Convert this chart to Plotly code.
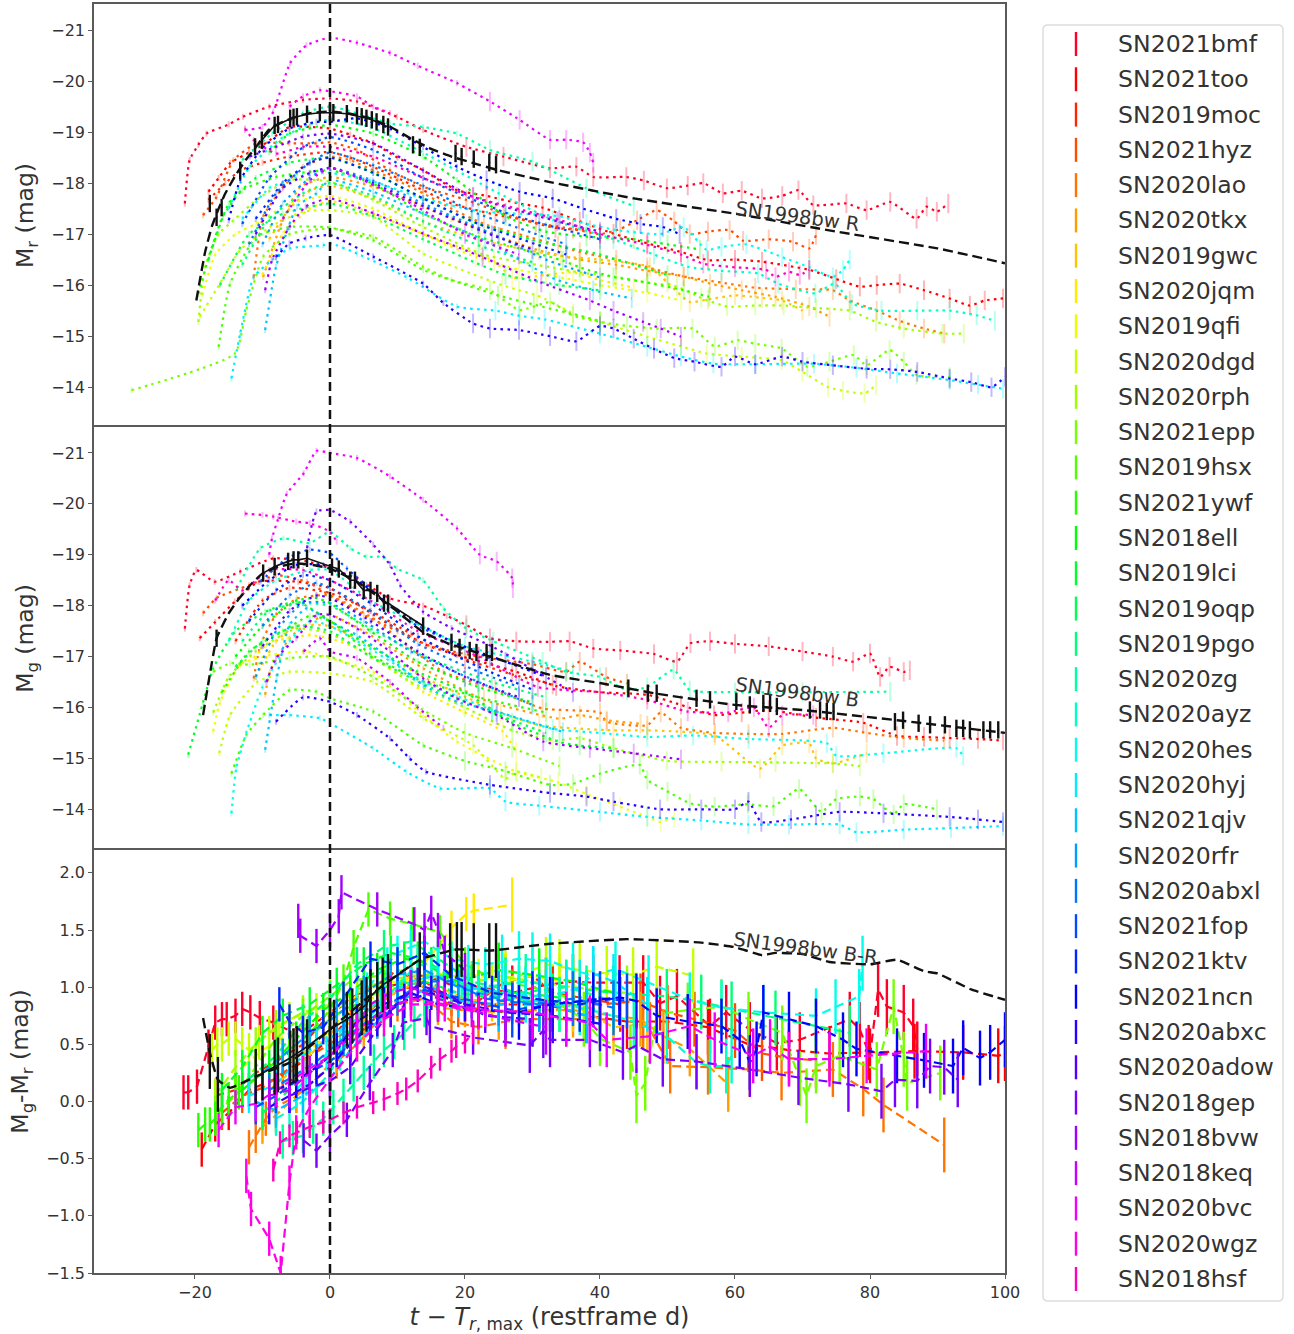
import plotly.graph_objects as go

NAMES = ["SN2021bmf","SN2021too","SN2019moc","SN2021hyz","SN2020lao","SN2020tkx","SN2019gwc","SN2020jqm","SN2019qfi",
"SN2020dgd","SN2020rph","SN2021epp","SN2019hsx","SN2021ywf","SN2018ell","SN2019lci","SN2019oqp","SN2019pgo","SN2020zg",
"SN2020ayz","SN2020hes","SN2020hyj","SN2021qjv","SN2020rfr","SN2020abxl","SN2021fop","SN2021ktv","SN2021ncn","SN2020abxc",
"SN2020adow","SN2018gep","SN2018bvw","SN2018keq","SN2020bvc","SN2020wgz","SN2018hsf"]

# ---------- r band absolute magnitude (day, mag) ----------
R_bmf=[(-21.5,-17.6),(-20.8,-18.45),(-19.5,-18.75),(-18.3,-18.97),(-15,-19.15),(-12.9,-19.3),(-9,-19.5),(-4,-19.63),(0,-19.66),(4,-19.6),(9.9,-19.3),(13.8,-19.04),(20.2,-18.71),(25.7,-18.52),(32.6,-18.29),(36.5,-18.32),(39,-18.12),(43.9,-18.12),(46.5,-18.05),(49.9,-17.9),(53,-17.95),(55.3,-18),(58.2,-17.8),(61,-17.85),(64,-17.7),(67,-17.75),(69.4,-17.86),(71.6,-17.57),(76.5,-17.6),(79.5,-17.47),(83,-17.63),(86.9,-17.3),(88.4,-17.54),(89.9,-17.44),(91.6,-17.6)]
R_too=[(-18,-17.83),(-16.5,-18.1),(-14.8,-18.39),(-12,-18.6),(-9.9,-18.75),(-6,-19.1),(-3,-19.1),(0,-19.07),(3,-18.95),(6.4,-18.78),(10,-18.5),(13.8,-18.25),(18.8,-17.86),(23.2,-17.75),(28,-17.6),(31.5,-17.52),(37,-17.25),(42,-17.01),(47,-16.82),(52,-16.65),(56,-16.49),(60,-16.5),(64,-16.46),(71,-16.3),(75,-16.12),(78.5,-15.97),(81,-16),(84.4,-16.03),(88,-15.9),(91.8,-15.74),(94.8,-15.6),(97,-15.7),(99.7,-15.74)]
R_moc=[(-18,-17.67),(-15.5,-18),(-13.3,-18.25),(-10,-18.4),(-6,-18.52),(0,-18.61),(3,-18.5),(6.4,-18.32),(10,-18.1),(13.8,-17.86),(18,-17.6),(24.5,-17.38),(28,-17.3),(33.4,-17.12),(38.5,-17.08)]
R_hyz=[(-18.8,-17.37),(-16.8,-17.73),(-14.3,-18.45),(-10.9,-18.78),(-6,-18.78),(-2,-18.78),(0,-18.8),(4,-18.65),(8.9,-18.25),(13.8,-17.93),(20.2,-17.67),(25.7,-17.4),(30.5,-17.22),(36,-17.1),(40,-17),(43,-17.1),(45.5,-17.27),(48.4,-17.47),(51,-17.25),(53.3,-17),(56,-17.05),(59.2,-17.08),(61.2,-16.87),(65,-16.9),(68.6,-16.85),(71,-16.72),(72,-16.98)]
R_lao=[(-11.3,-16.16),(-9.9,-17.34),(-6.9,-17.93),(-4,-18.32),(0,-18.52),(3,-18.45),(6.4,-18.25),(10,-18.05),(13.8,-17.8),(18,-17.5),(22.8,-17.2),(28,-17),(33.8,-16.78),(37,-16.65),(42.4,-16.5),(47,-16.35),(52.4,-16.17),(58,-16.05),(63,-15.95),(69,-15.92),(74.5,-15.9),(77,-15.7),(81,-15.5),(84.4,-15.3),(88,-15.15),(91,-15.05)]
R_tkx=[(-9.9,-16.16),(-7.4,-17.14),(-4.4,-17.93),(0,-18.12),(6.4,-17.93),(13.8,-17.54),(18,-17.3),(25,-16.95),(31,-16.68),(37,-16.5),(42.4,-16.4),(47,-16.28),(52.4,-16.17),(56.3,-16.03),(61,-15.9),(66,-15.77),(71,-15.58),(74,-15.38)]
R_gwc=[(-9,-16.9),(-6,-17.5),(-3,-17.85),(0,-17.95),(6.4,-17.7),(13.8,-17.25),(22.3,-16.88),(34.2,-16.57),(40,-16.5),(47.4,-16.36),(50,-16.05),(53.3,-15.67),(56,-15.72),(60,-15.8),(64,-15.75),(67,-15.7),(70,-15.5)]
R_jqm=[(-10,-16.2),(-7,-17),(-3,-17.5),(0,-17.65),(6.4,-17.4),(13.8,-17),(24.3,-16.47),(27,-16.15),(32,-16.2),(36,-16.25),(40,-16.1),(45,-15.95)]
R_qfi=[(-18.9,-15.8),(-17,-16.6),(-14,-17),(-11,-17.2),(-6,-17.6),(0,-17.75),(6.4,-17.5),(13.8,-17),(21.6,-16.55),(28,-16.3),(35,-16.13),(40,-16),(47,-15.85),(52,-15.7)]
R_dgd=[(-19.3,-15.38),(-16.3,-16.03),(-13.3,-16.69),(-8.9,-17.14),(-4,-17.44),(0,-17.47),(6.4,-17.34),(13.8,-16.62),(25.5,-16),(28,-15.9),(30.7,-15.8),(36,-15.45),(40,-15.28),(47,-14.99),(52,-14.8),(55.8,-14.66),(61,-14.6),(66.9,-14.53),(70,-14.3),(73.8,-14),(76,-13.93),(79.2,-13.88),(80.9,-14.04)]
R_rph=[(-19.5,-15.28),(-18.5,-16.36),(-16.5,-17),(-14.3,-17.27),(-10.9,-17.67),(-6,-18.06),(0,-18.03),(6.4,-17.67),(13.8,-17.14),(22.7,-16.6),(33.2,-16.34),(37,-16.25),(42.4,-16.16),(47,-16.05),(51.4,-15.97),(55,-15.75),(58.8,-15.58),(63,-15.6),(67.2,-15.6),(72,-15.55),(77,-15.5),(80.9,-15.28),(85,-15.15),(90.7,-15.05),(93.9,-15.05)]
R_epp=[(-29.4,-13.94),(-14.1,-14.66),(-12.4,-15.51),(-9.9,-16.56),(-6,-17),(0,-17.11),(6.4,-16.95),(13.8,-16.36),(18,-16.1),(23.7,-15.9),(28.1,-15.51),(32.6,-15.67),(36,-15.4),(40,-15.28),(44,-15.2),(48.4,-15.15),(53.7,-15.15),(57,-14.8),(60.4,-14.92),(63,-14.85),(66.9,-14.76),(70.7,-14.4),(74,-14.5),(77.6,-14.63),(79.5,-14.43),(82.9,-14.73),(85,-14.5),(86.9,-14.24),(91.8,-14.2)]
R_hsx=[(-16.5,-14.79),(-14.8,-16.03),(-10.9,-16.95),(-6,-17.14),(0,-17.13),(6.4,-16.88),(13.8,-16.3),(24.9,-15.8),(30.2,-15.62),(40,-15.3)]
R_ywf=[(-19.5,-15.83),(-17.8,-16.62),(-15.9,-17.34),(-13,-17.86),(-8,-18.12),(0,-18.25),(6.4,-17.99),(13.8,-17.4),(22,-16.95),(34.5,-16.48),(37,-16.35),(42,-16.16),(47,-16.05),(52.4,-15.9),(56.2,-15.77)]
R_ell=[(-9,-18.6),(-6,-18.97),(0,-19.14),(6.4,-18.97),(13.8,-18.52),(18.8,-18.06),(26,-17.35),(32,-17.05),(38,-16.95),(45,-16.9),(50,-16.8),(54.8,-16.7)]
R_lci=[(-18,-16.5),(-15,-17.6),(-11,-18.1),(-6,-18.4),(0,-18.5),(6.4,-18.2),(13.8,-17.7),(21,-17.25),(31,-16.85),(40,-16.6),(50,-16.2)]
R_oqp=[(-16.3,-16),(-12,-17),(-7,-17.4),(0,-17.6),(6.4,-17.35),(13.8,-16.9),(26,-16.2),(34,-16),(40,-15.9)]
R_pgo=[(-13,-16.4),(-9,-17.3),(-4,-17.8),(0,-18),(6.4,-17.75),(13.8,-17.25),(22,-16.78),(30,-16.45)]
R_zg=[(-13,-18.45),(-8.6,-18.97),(-4,-19.37),(0,-19.5),(4,-19.37),(8.9,-19.17),(13.8,-19.1),(18.8,-18.97),(23.7,-18.65),(30,-18.42),(38,-17.9),(45,-17.55)]
R_ayz=[(-15,-17.5),(-12,-18.3),(-7,-18.9),(-3,-19.15),(0,-19.25),(6,-19.1),(13.8,-18.6),(25,-17.8),(33,-17.28),(42,-16.9),(48,-16.6),(53,-16.36),(58,-16.28),(63.4,-16.23),(66.4,-16.03),(71.9,-15.84),(74.8,-16.03),(77.3,-15.64),(81.7,-15.5),(87,-15.5),(91.8,-15.5),(95.8,-15.41),(98.5,-15.3)]
R_hes=[(-13,-17.3),(-9,-17.9),(-4,-18.15),(0,-18.2),(6,-18.05),(13.8,-17.7),(22,-17.45),(34,-17.35),(38,-17.2),(42.4,-17.08),(48.9,-17),(52.4,-17.14),(55.8,-16.69),(58,-16.75),(61.7,-16.8),(67,-16.55),(71,-16.35),(74.5,-16.16),(76,-16.3),(77,-16.5)]
R_hyj=[(-14.6,-14.17),(-13.3,-15.05),(-11.3,-16.16),(-8,-16.55),(-6,-16.72),(-1,-16.78),(0,-16.82),(4,-16.62),(11.3,-16.16),(18.8,-15.58),(24.5,-15.5),(28,-15.4),(31.8,-15.33),(40,-15.05),(47,-14.79),(52,-14.6),(56.8,-14.46),(63,-14.45),(71.7,-14.46),(78,-14.38),(84,-14.27),(91.8,-14.14),(96,-14.05),(99.7,-13.97)]
R_qjv=[(-9.6,-15.12),(-8,-16.36),(-4.9,-17.54),(-2,-17.8),(0,-18.06),(6.4,-17.83),(13.8,-17.4),(23,-16.87),(33.3,-16.12),(39,-15.9),(44.7,-15.74)]
R_rfr=[(-10,-16.8),(-7,-17.6),(-3,-18.1),(0,-18.3),(6.4,-18.05),(13.8,-17.6),(25,-16.95),(32,-16.5),(40,-16.15)]
R_abxl=[(-12,-16.8),(-8,-17.8),(-3,-18.4),(0,-18.6),(6.4,-18.35),(13.8,-17.95),(21,-17.45),(35,-16.8)]
R_fop=[(-13,-17.2),(-9,-18.1),(-4,-18.7),(0,-18.9),(6.4,-18.65),(13.8,-18.1),(26,-17.42),(31,-17.22),(40,-16.9)]
R_ktv=[(-11,-17.3),(-7,-18),(-3,-18.4),(0,-18.5),(6.4,-18.2),(13.8,-17.7),(22,-17.2),(35,-16.6)]
R_ncn=[(-15,-17.27),(-13.3,-18.06),(-9.9,-18.7),(-6,-19.07),(-2,-19.2),(0,-19.2),(4,-19.27),(8.9,-19.07),(13.8,-18.71),(18.8,-18.32),(23.2,-18.06),(28.1,-17.83),(33,-17.7),(37.5,-17.5),(42.4,-17.3),(46,-17.2),(49.3,-17.14),(51.8,-17)]
R_abxc=[(-8,-16.55),(-6,-16.82),(-3.6,-16.92),(0,-16.98),(6.4,-16.56),(13.8,-16.03),(16.8,-15.65),(21.2,-15.25),(23.7,-15.15),(28,-15.12),(32.6,-15),(36.5,-14.9),(40,-15.2),(42,-15.15),(45,-14.95),(48,-14.75),(51,-14.57),(54,-14.5),(58,-14.4),(60,-14.6),(63,-14.45),(67,-14.6),(70,-14.5),(74.5,-14.43),(79.5,-14.36),(83,-14.35),(87,-14.3),(91.8,-14.17),(95,-14.1),(98,-14),(100,-14.2)]
R_adow=[(-11,-17),(-7,-17.9),(-3,-18.2),(0,-18.3),(6.4,-18),(13.8,-17.55),(24,-16.98),(30,-16.7)]
R_gep=[(-11.9,-18.52),(-8,-18.71),(-4,-18.91),(0,-18.97),(6.4,-18.78),(13.8,-18.25),(21.2,-17.73),(33.7,-17.25),(40,-17.05)]
R_bvw=[(-9.6,-15.9),(-8.6,-16.49),(-6,-17.14),(-3.6,-17.54),(0,-17.7),(6.4,-17.41),(13.8,-17.01),(22.6,-16.55),(31.3,-16.05),(38.5,-15.7),(42,-15.5),(46.4,-15.28),(49,-15.15),(52,-14.99)]
R_keq=[(-7,-17.3),(-3,-18.05),(0,-18.3),(5,-18.05),(12,-17.6),(20,-17),(28,-16.6)]
R_bvc=[(-12.6,-19.04),(-10,-19.1),(-8.4,-19.4),(-5.9,-20.35),(-3.5,-20.7),(0,-20.85),(4,-20.75),(8.9,-20.55),(13,-20.3),(18.8,-19.96),(23.7,-19.6),(28.1,-19.24),(32.6,-18.85),(35,-18.85),(37.5,-18.8),(38.5,-18.6),(39,-18.4)]
R_wgz=[(-6,-19.5),(-4,-19.7),(-1.5,-19.82),(0,-19.8),(4,-19.7),(6.4,-19.5),(8.9,-19.37)]
R_hsf=[(-12.6,-19.07),(-11.3,-18.84),(-8,-18.58),(-4,-18.71),(0,-18.71),(6.4,-18.52),(13.8,-18.1),(21.2,-17.73),(34,-17.28),(40,-17),(47,-16.79),(52,-16.6),(55.3,-16.42),(60,-16.35),(64.6,-16.3),(66,-16.16),(68,-16.26),(69.6,-16.2),(71,-16.3)]

# ---------- g band absolute magnitude (day, mag) ----------
G_bmf=[(-21.5,-17.55),(-20.8,-18.4),(-19.8,-18.7),(-17.1,-18.47),(-13.3,-18.67),(-8.4,-18.93),(-3.4,-18.87),(0,-18.73),(3.9,-18.54),(8.9,-18.14),(13.8,-18),(17.3,-17.8),(20.2,-17.62),(23.7,-17.36),(27.6,-17.3),(32.6,-17.29),(35.5,-17.3),(39,-17.16),(43,-17.12),(48,-17.05),(51.4,-16.9),(53.4,-17.26),(56.3,-17.3),(60,-17.25),(65,-17.2),(70,-17.1),(74.5,-17),(77.5,-16.9),(80,-17.06),(81.5,-16.6),(82.9,-16.8),(85,-16.7),(85.9,-16.73)]
G_too=[(-19.3,-17.36),(-17,-17.68),(-14.1,-18.08),(-10.6,-18.47),(-4.7,-18.47),(0,-18.34),(8.9,-17.62),(14.2,-17.23),(18.8,-17.03),(27.6,-16.7),(33.5,-16.42),(40,-16.3),(47,-16.25),(52,-16.05),(56.9,-15.85),(61,-15.9),(65,-15.95),(72,-15.8),(79,-15.7),(84,-15.44),(88,-15.42),(91.8,-15.4),(96,-15.38),(99.7,-15.35)]
G_moc=[(-14,-17.3),(-10,-18.1),(-6,-18.35),(0,-18.25),(6,-17.9),(12,-17.45),(20,-16.95),(27,-16.65),(33,-16.45)]
G_hyz=[(-18.8,-17.85),(-16.8,-18.15),(-12,-18.4),(-8,-18.6),(-3.4,-18.47),(0,-18.2),(5,-17.82),(10,-17.5),(15,-17.2),(22,-17),(30,-16.85),(35,-16.7),(37,-16.9),(40.9,-16.6),(44,-16.47)]
G_lao=[(-11.3,-16.57),(-10.3,-17.23),(-8,-17.82),(-4.9,-18.14),(-2,-18.2),(0,-18.2),(6.4,-17.75),(11.3,-17.23),(16.8,-16.7),(24.5,-16.35),(31.5,-15.98),(40,-15.9),(41,-15.72),(47,-15.65),(49,-15.9),(52,-15.6),(57,-15.5),(62,-15.48),(67,-15.48),(74.5,-15.6),(79.5,-15.5),(85,-15.4),(91,-15.35)]
G_tkx=[(-9.6,-16.25),(-8.9,-16.7),(-6,-17.36),(-3,-17.68),(0,-17.82),(5,-17.5),(13.8,-16.77),(22.8,-16.15),(34,-15.78),(37,-15.85),(41,-15.75),(46,-15.68)]
G_gwc=[(-11,-16.6),(-8,-17.3),(-5,-17.6),(0,-17.6),(6,-17.2),(13.8,-16.6),(25.3,-15.9),(31,-15.65),(42,-15.55),(47,-15.55),(57,-15.45),(63.7,-14.8),(67,-15.25),(71,-15.3),(72,-15),(74.5,-14.9),(79.5,-15.1)]
G_jqm=[(-11.3,-16.97),(-9.4,-17.23),(-6.4,-17.36),(-3,-17.42),(0,-17.36),(4,-17.16),(8.9,-16.77),(13.8,-16.31),(19.7,-15.92),(25.6,-15.53),(27.6,-15.13)]
G_qfi=[(-17.3,-15.53),(-16.3,-16.1),(-13.3,-16.84),(-8.9,-17.03),(-3.4,-17.1),(0,-16.97),(6.4,-16.7),(13.8,-15.85),(18.8,-15.33),(27.6,-14.74),(33.8,-14.53),(38,-14.3),(43,-14.05),(47,-13.85),(49,-13.75),(51,-13.85)]
G_dgd=[(-16.4,-15.1),(-14.8,-15.85),(-10.8,-16.5),(-6,-16.7),(0,-16.67),(6.4,-16.5),(13.8,-15.79),(21.2,-15.26),(26,-14.6),(27.6,-14.74),(31.3,-14.62)]
G_rph=[(-17.3,-15.9),(-15,-16.6),(-11,-17.1),(-5,-17.55),(0,-17.45),(6,-17),(12,-16.5),(20,-16),(27,-15.55),(33,-15.35),(37,-15.4),(42,-15.2),(49.9,-14.95),(58,-14.93),(66,-14.92),(74.5,-14.9),(78.5,-14.85)]
G_epp=[(-17.3,-16.7),(-14.8,-16.87),(-11.9,-16.84),(-6,-16.97),(0,-17),(6.4,-16.6),(13.8,-15.95),(20,-15.5),(27,-15.2),(34,-14.85)]
G_hsx=[(-14.6,-14.7),(-12.4,-15.46),(-9.9,-15.85),(-6,-16.34),(-2,-16.31),(0,-16.18),(6.4,-15.92),(13.8,-15.26),(20,-14.95),(26,-14.75),(32.6,-14.48),(36,-14.5),(40,-14.7),(45.9,-14.87),(47,-14.58),(50,-14.35),(53.3,-14.12),(57,-14.05),(61.9,-14.1),(65.7,-14.06),(69.5,-14.4),(72.8,-13.95),(75,-14.2),(78.5,-14.25),(80.5,-14.2),(83.5,-13.9),(85,-14.1),(89.9,-14)]
G_ywf=[(-16,-16.3),(-12,-17.1),(-7,-17.5),(-3,-17.8),(0,-17.7),(6,-17.05),(13,-16.55),(22,-16.2),(32,-15.9)]
G_ell=[(-14,-17),(-10,-17.6),(-5,-18.1),(-2,-18.15),(0,-18.05),(6,-17.5),(13,-16.9),(22,-16.4),(30,-16.1)]
G_lci=[(-21,-15.07),(-18.8,-16.1),(-17.3,-16.77),(-14.1,-17.49),(-9.6,-17.88),(-4.9,-18.08),(0,-17.7),(6,-17.2),(13,-16.7),(20,-16.3),(27,-15.7),(34,-15.32),(37,-15.25),(42,-15.2)]
G_oqp=[(-14,-16.8),(-10,-17.3),(-5,-17.6),(0,-17.5),(6,-17),(14,-16.45),(24,-15.9),(32,-15.5)]
G_pgo=[(-13,-17.3),(-9,-17.9),(-4,-18.05),(0,-18),(6,-17.55),(14,-17),(24,-16.5),(32,-16.2)]
G_zg=[(-13.8,-18.34),(-10.3,-19.13),(-6.9,-19.32),(-3,-19.23),(0,-19.45),(3,-19.13),(5.4,-18.96),(7.9,-18.96),(9.9,-18.73),(13.8,-18.5),(16.8,-17.95),(20.2,-17.55),(24.2,-17.3),(31.5,-16.9),(35,-16.7),(40,-16.6),(44,-16.34),(47,-16.4),(50.9,-16.74),(53.3,-16.34),(60,-16.3),(70,-16.3),(83,-16.31)]
G_ayz=[(-15,-17.3),(-12,-18.1),(-8,-18.5),(-3,-18.7),(0,-18.7),(6,-18.1),(12,-17.7),(20,-17.2),(30,-16.9),(36,-16.7)]
G_hes=[(-14.6,-13.92),(-13.9,-14.8),(-12.4,-15.5),(-10,-16.4),(-6,-17.3),(-3,-17.7),(0,-17.6),(6,-17.15),(14,-16.5),(24,-15.95),(33,-15.58),(40,-15.5),(47,-15.42),(53.8,-15.45),(62,-15.38),(73.6,-15.3),(75,-15.05),(82,-15.1),(92.8,-15.2),(93.8,-15.05)]
G_hyj=[(-9,-15.85),(-6,-15.85),(-1.5,-15.79),(0,-15.69),(6.4,-15.2),(11.3,-14.74),(16.3,-14.41),(23.7,-14.41),(26,-14.15),(31,-14.07),(40,-13.95),(47,-13.85),(55,-13.78),(62,-13.7),(68,-13.7),(75.5,-13.7),(78,-13.55),(85,-13.6),(92,-13.63),(99.7,-13.67)]
G_qjv=[(-9.6,-15.17),(-7.9,-16.57),(-6,-17.62),(-3.4,-17.95),(0,-17.69),(4,-17.42),(8.9,-16.97),(13.8,-16.44),(18.8,-16.11),(24.7,-15.92),(34.5,-15.52)]
G_rfr=[(-11,-16.6),(-8,-17.5),(-4,-18.05),(0,-18.05),(5,-17.7),(12,-17.1),(22,-16.5),(30,-16.05)]
G_abxl=[(-10,-17.6),(-6,-18.2),(-2,-18.45),(0,-18.35),(6,-17.9),(13,-17.25),(22,-16.7),(28,-16.4)]
G_fop=[(-10.3,-18.47),(-6.4,-18.93),(-3,-19.1),(0,-19.03),(2.5,-18.73),(5.4,-18.4),(8.9,-18),(11.8,-17.69),(17.8,-17.3),(23.7,-16.97)]
G_ktv=[(-12,-17.7),(-8,-18.3),(-4,-18.6),(0,-18.5),(6,-18.05),(13,-17.4),(22,-16.8),(30,-16.35)]
G_ncn=[(-13,-18),(-9,-18.5),(-5,-18.8),(-1,-18.8),(4,-18.5),(10,-17.9),(18,-17.3),(26,-16.9),(32,-16.6)]
G_abxc=[(-8,-15.72),(-4,-16.2),(0,-16.11),(4,-15.85),(8.9,-15.39),(11.8,-15),(14.2,-14.74),(23.7,-14.48),(32.6,-14.32),(38,-14.25),(42,-14.15),(48.9,-14),(55,-14),(60,-14),(62,-14.15),(63.9,-13.75),(68.3,-13.8),(72,-13.88),(75.5,-13.95),(82,-13.92),(91.8,-13.85),(96,-13.8),(99.7,-13.75)]
G_adow=[(-10,-17.2),(-6,-17.9),(-2,-18.2),(0,-18.15),(6,-17.7),(13,-17.1),(20,-16.6),(28,-16.2)]
G_gep=[(-3.4,-19.13),(-2,-19.85),(0,-19.88),(3,-19.65),(6.4,-19.2),(8.9,-18.8),(10.4,-18.4),(13.8,-17.88),(18,-17.56),(24,-17.2),(30,-16.75),(36,-16.3)]
G_bvw=[(-9.4,-16.5),(-8,-16.97),(-5,-17.36),(-2,-17.82),(0,-17.82),(4,-17.55),(8.9,-17.1),(13.8,-16.57),(18.8,-16.18),(24.7,-15.85),(31.6,-15.33),(38.5,-15.2),(45,-15.1),(52,-14.98)]
G_keq=[(-3.9,-17.1),(-1.5,-17.36),(0,-17.1),(4,-16.97),(8.9,-16.5),(13,-16),(16.8,-15.6)]
G_bvc=[(-9,-19),(-8.6,-19.32),(-7.7,-19.7),(-6.4,-20.2),(-3.9,-20.6),(-2,-21.04),(0,-21),(4,-20.9),(8.9,-20.54),(13.8,-20.08),(18.8,-19.52),(22.2,-19),(24.7,-18.87),(27,-18.54),(27.1,-18.34)]
G_wgz=[(-12.6,-19.81),(-10,-19.78),(-8.4,-19.75),(-5,-19.65),(-3,-19.62),(0,-19.45),(1,-19.26)]
G_hsf=[(-17,-18.1),(-15,-18.5),(-13,-18.3),(-9,-18.7),(-4,-18.7),(0,-18.5),(6,-18.1),(13,-17.5),(22,-17),(30.8,-16.4),(40,-16.3),(47,-16.15),(53,-15.92),(59,-15.9),(62.8,-16),(65,-15.6),(67,-15.85),(71.6,-15.85)]

# ---------- g - r colour (day, mag) ----------
C_bmf=[(-21.7,.08),(-21,.08),(-19.7,.13),(-18,.48),(-17,.69),(-16,.72),(-15.3,.72),(-14,.75),(-13,.81),(-11.8,.78),(-10.4,.73),(-8.4,.69),(-6,.62),(-3,.65),(0,.78),(3,.9),(6,1),(10,1.1),(14,1.1),(18,1.02),(22,1),(27,.95),(32,1.02),(36,1.05),(39,1.04),(42.9,1.04),(46.4,1.04),(48.9,.86),(51.4,.92),(56.3,.66),(58.7,.78),(62.2,.63),(66.2,.51),(69.6,.54),(77,.72),(78.5,.63),(80,.4),(81.2,.98),(82.5,.83),(85,.78),(86.4,.66),(87,.46)]
C_too=[(-19,-.42),(-17,-.2),(-15,-.1),(-12,.1),(-8,.2),(-4,.35),(0,.55),(4,.8),(8,1),(12,1.05),(16,.95),(20,.85),(26,.85),(32,.85),(38,.75),(44,.7),(50,.7),(56,.65),(62,.5),(68,.45),(74,.42),(79.8,.43),(86.6,.44),(93.8,.43),(99,.4),(100,.42)]
C_moc=[(-17,.05),(-14,.1),(-11,.25),(-8,.35),(-4,.5),(-1,.7),(2,.85),(6,.98),(10,1.15),(14,1.05),(18,.9),(22,.88),(26,1.05),(30,1.1),(33,.95),(38,.9),(43,.85)]
C_hyz=[(-16,-.1),(-13,.05),(-10,.12),(-7,.25),(-3,.4),(0,.5),(3,.65),(7,.85),(11,1),(15,.95),(19,.8),(23,.82),(27,.92),(31,.85),(35,.85),(40,.85),(46,.88),(50,.78),(54,.72),(60,.62),(64,.42),(68,.38),(72,.36)]
C_lao=[(-12,-.4),(-11,-.3),(-9.5,-.15),(-8,-.05),(-5,.05),(-2,.2),(1,.35),(4,.5),(7,.7),(10,.85),(14,.9),(18,.7),(22,.65),(26,.7),(30,.72),(35,.72),(40,.72),(46.4,.69),(47.4,.63),(50.4,.31),(56,.3),(62.2,.28),(66.9,.25),(74.5,.28),(79,.11),(82,-.03),(91,-.38)]
C_tkx=[(-10,-.22),(-8,-.12),(-5,.05),(-2,.2),(1,.4),(5,.62),(8,.82),(12,.95),(16,.82),(20,.8),(25,.78),(30,.8),(36,.8),(42,.75),(46,.72),(49.4,.57),(53.3,.46),(59,.15)]
C_gwc=[(-9,.1),(-6,.25),(-3,.4),(0,.6),(4,.72),(8,.9),(12,1.02),(16,1),(20,.9),(24,.85),(30,.88),(36,.85),(42,.65),(47,.68)]
C_jqm=[(-6,.35),(-2,.5),(2,.75),(6,.9),(10,1),(13,1.15),(16,1.35),(18,1.52),(20.2,1.64),(21.3,1.67),(27,1.72)]
C_qfi=[(-13,.3),(-10,.45),(-6,.6),(-2,.72),(2,.85),(6,1),(10,1.05),(14,1.05),(18,1.15),(22,1.1),(26,1.05),(30,1.1),(34,1.05)]
C_dgd=[(-17.5,.45),(-16.7,.5),(-16,.5),(-15,.55),(-14,.55),(-13,.5),(-12,.45),(-10.5,.52),(-9,.6),(-7.5,.65),(-6,.72),(-4,.76),(-2,.8),(0,.85),(2,.9),(4,.95),(6,1),(8,1),(10,1.05),(12,1.08),(14,1.1),(16,1.12),(18,1.1),(21,1.08),(24,1.05),(26,1.08),(28,1.1),(30,1.15),(32,1.2),(34,1.18),(37,1.15),(41,1.12),(44.9,1.11),(48.4,1.18),(53.8,1.1)]
C_rph=[(-17,.05),(-14,.3),(-11,.5),(-8,.65),(-4,.78),(0,.85),(4,.98),(8,1.05),(12,1.1),(16,1.12),(20,1.02),(25,1.1),(30,1.05),(36,1),(44,.95)]
C_epp=[(-17,-.1),(-14,.05),(-11,.3),(-8,.55),(-4,.75),(0,.92),(3,1.05),(7,1.1),(11,1.15),(15,1.1),(20,1),(26,.92),(32,.92),(37.6,.72),(40,.55),(44.5,.43),(45.4,.05),(46.7,.16),(48.4,.76),(53,.8),(58,.83),(62,.72),(67,.6),(69.6,.2),(70.6,.05),(72,.31),(75.5,.4),(81,.28),(83.5,.83),(85,.37),(85.5,.16),(90.4,.25)]
C_hsx=[(-14,.1),(-11,.2),(-7,.4),(-3,.6),(0,.8),(2,1.05),(3.5,1.35),(5.7,1.68),(8.9,1.6),(12.3,1.55),(16.3,1.48),(20,1.2),(25,1.05),(30,1),(36,.9)]
C_ywf=[(-19.5,-.25),(-18.5,-.2),(-17.8,-.2),(-17,-.15),(-16,-.05),(-15,.02),(-13.5,.08),(-12,.15),(-10,.25),(-8,.35),(-6,.45),(-4,.55),(-2,.62),(0,.72),(2,.8),(4,.85),(6,.92),(8,1),(10,1.02),(12,1.05),(14,1.08),(16,1.1),(19,1.05),(22,1),(25,.95),(28,.9),(31,.88),(34,.85)]
C_ell=[(-13,.1),(-9,.3),(-5,.55),(-1,.8),(3,.95),(7,1.15),(11,1.25),(15,1.2),(19,1.05),(25,1.15),(31,1.1),(36,1.05),(42,.95)]
C_lci=[(-16,.1),(-13,.3),(-10,.6),(-7,.75),(-3,.85),(1,1.02),(5,1.2),(9,1.3),(13,1.25),(17,1.1),(23,.95),(29,.95),(35,.9)]
C_oqp=[(-10,-.1),(-6,.1),(-2,.3),(2,.55),(6,.85),(10,1),(14,1.05),(19,.95),(25,.9),(33,.88),(40,.8)]
C_pgo=[(-12,.2),(-8,.4),(-4,.7),(0,.9),(4,1.2),(8,1.35),(12,1.4),(16,1.25),(21,1.05),(28,.95),(35,1),(42,.95),(49.9,.92),(55,.87),(59.5,.81),(66,.73),(72,.66),(77,.6)]
C_zg=[(-7,-.35),(-5.5,-.32),(-4,-.3),(-2.5,-.22),(-1,-.15),(.5,-.05),(2,.05),(3.5,.15),(5,.25),(6.5,.35),(8,.45),(9.5,.52),(11,.6),(12.5,.7),(14,.8),(16,.88),(18,.95),(20.5,.98),(23,1),(26,1.02),(29,1.05),(32,1.02),(35,1),(38,.95),(42,.88)]
C_ayz=[(-8,-.15),(-6,-.08),(-4,0),(-2,.12),(0,.25),(1.5,.42),(3,.55),(4.5,.65),(6,.75),(7.5,.85),(9,.95),(11,1.08),(13,1.2),(15,1.18),(17,1.15),(19.5,1.05),(22,.95),(25,.92),(28,.9),(31,.88),(34,.85),(37,.82),(40,.78),(45,.7),(49.9,.57),(54.3,.34),(56.3,.31),(58.7,.31),(59.5,.4)]
C_hes=[(-5,.1),(-3.5,.2),(-2,.3),(-.5,.42),(1,.55),(2.5,.7),(4,.85),(5.5,.98),(7,1.1),(8.5,1.2),(10,1.3),(12,1.35),(14,1.4),(16,1.32),(18,1.25),(20.5,1.22),(23,1.2),(25.5,1.22),(28,1.25),(30,1.24),(32.6,1.23),(36,1.15),(39,1.1),(42.3,1.16),(47.2,1.04),(53.3,.89),(58,.82),(64.2,.78),(72,.75),(74.9,.83),(78.4,.92),(78.9,1.21)]
C_hyj=[(-12,.05),(-10,.1),(-8,.15),(-6,.28),(-4,.4),(-2,.48),(0,.55),(2,.65),(4,.72),(6,.82),(8,.9),(10,.98),(12,1.05),(14,1.08),(16,1.1),(18,1.05),(20,1),(23,.98),(26,.95),(29,.93),(32,.92),(35,.96),(37,1),(39,1.12),(42,1.05),(47,.85)]
C_qjv=[(-11,0),(-8,-.08),(-4,.05),(0,.2),(3,.45),(7,.7),(11,.9),(15,1),(19,.88),(25,.85),(31,.88),(38,.75)]
C_rfr=[(-10,.25),(-7,.4),(-3,.6),(1,.75),(5,.95),(9,1.1),(14,1.15),(19,1),(25,.9),(31,.85)]
C_abxl=[(-9,.1),(-6,.2),(-2,.35),(2,.55),(6,.72),(10,.9),(14,1.05),(18,1.05),(23,.9),(30,.85),(36,.9),(42,.82)]
C_fop=[(-11,-.05),(-8,.05),(-4,.22),(0,.35),(3,.5),(6,.7),(9,.8),(12,1),(16,.95),(21,.88),(27,.8),(33,.85),(40,.9),(44,.88)]
C_ktv=[(-7.5,.85),(-6,.7),(-4,.6),(-1,.65),(2,.9),(6,1.25),(10,1.2),(14,1.3),(18,1.1),(24,.95),(30,.9),(37,.85),(42.9,.91)]
C_ncn=[(-8,.1),(-5,.18),(-2,.3),(1,.45),(4,.7),(8,.85),(12,.95),(16,.85),(22,.8),(28,.78),(32.6,.85),(39,.89),(42.9,.91),(45.4,.88),(48.4,.75),(53,.7),(58,.66),(60.7,.54),(62.2,.34),(63.2,.46),(64.2,.78),(68,.72),(72,.66),(76,.54),(78,.46),(84,.4),(88,.36),(92.3,.31),(93.8,.47),(96.3,.38),(97.8,.43),(100,.54)]
C_abxc=[(-9,-.05),(-6,.05),(-3,.15),(0,.3),(3,.5),(7,.72),(11,.88),(15,.95),(20,.85),(26,.78),(33,.75),(40,.68)]
C_adow=[(-6,.05),(-3,.12),(0,.18),(3,.3),(6,.55),(9,.8),(13,1.02),(17,.95),(23,.75),(30,.72)]
C_gep=[(-3.9,-.34),(-2,-.43),(0,-.3),(2.5,-.16),(5.9,.16),(9.3,.45),(10.8,.69),(14.3,.73),(14.8,.66),(21.2,.56),(29.6,.49),(31.6,.62),(32.6,.54),(38.5,.54),(43.4,.43),(45.4,.49),(49.3,.37),(54.3,.35),(62.2,.28),(69.4,.21),(76.8,.15),(81.7,.09),(83.7,.19),(87,.18),(88.9,.31),(91,.3),(93,.19)]
C_bvw=[(-4.7,1.58),(-4.4,1.45),(-2,1.36),(0,1.5),(1.3,1.62),(1.7,1.83),(7,1.68),(12.5,1.55),(14,1.5),(15,1.65),(16,1.5),(17,1.3),(20,1.15)]
C_keq=[(-9,.05),(-6,.1),(-3,.25),(0,.4),(3,.6),(6,.85),(9,.95),(12,1),(16,.9),(21,.8),(26,.72),(32,.65)]
C_bvc=[(-16.5,-.25),(-14,-.05),(-11,-.02),(-8,.1),(-4,.25),(0,.4),(4,.62),(8,.8),(12,.9),(17,.85),(23,.8),(30,.78),(35,.72),(38.5,.69),(41,.54),(47.4,.57),(53.3,.66),(57,.54),(62.7,.4),(65.2,.48),(68,.37),(74,.37),(79.5,.4),(88.3,.44)]
C_wgz=[(-12.4,-.65),(-11.7,-.94),(-9,-1.2),(-7.3,-1.5),(-6,-.71),(-5,-.27),(-3,-.05),(0,.2),(4,.5),(8,.72),(12,.85),(16,.85),(22,.78)]
C_hsf=[(-8.4,-.6),(-7.4,-.36),(-6,-.3),(-4.9,-.27),(-3,-.22),(-1,-.18),(0,-.16),(2,-.1),(4,-.05),(6.4,-.01),(8,.02),(10,.07),(11.3,.11),(13,.18),(15,.3),(16.3,.37),(18,.44),(18.7,.48),(20,.52),(21.2,.6)]

# ---------- SN1998bw templates ----------
BW_R_T=[-19.8,-19.2,-18.5,-17.5,-16.5,-15.5,-14,-12.5,-11,-9,-7,-5,-3,0,3,6,9,12,15,18,21,25,32.6,45,60,75,90,100]
BW_R_M=[-15.7,-16.15,-16.65,-17.15,-17.5,-17.8,-18.15,-18.45,-18.7,-19.05,-19.2,-19.3,-19.37,-19.4,-19.36,-19.27,-19.1,-18.87,-18.67,-18.52,-18.4,-18.25,-18.02,-17.7,-17.4,-17.05,-16.72,-16.43]
BW_G_T=[-18.8,-17.8,-16.8,-15,-13.4,-11.5,-9.9,-7.5,-5,-2.5,0,4,8.9,13.8,17.5,23.7,32.6,40,48,60,70,84,100]
BW_G_M=[-15.85,-16.65,-17.36,-17.85,-18.15,-18.45,-18.64,-18.77,-18.83,-18.8,-18.73,-18.47,-18,-17.48,-17.26,-17,-16.64,-16.48,-16.28,-16.05,-15.95,-15.75,-15.5]
BW_C_T=[-18.8,-17.8,-16.6,-14.8,-11,-6,0,6.4,13.3,18.7,23.7,32.6,44,55,60,64,66,70,74,80,84,88,90,95,100]
BW_C_V=[.73,.43,.19,.12,.22,.34,.63,.95,1.24,1.33,1.32,1.38,1.42,1.39,1.35,1.28,1.3,1.29,1.22,1.2,1.24,1.14,1.12,.98,.89]
BLACK_R_T=[-17.8,-16.8,-16.05,-13.3,-11.1,-10.1,-8.2,-7.7,-5.9,-5.4,-4.9,-3.4,-1.5,0,.5,2.5,4,4.7,5.4,6.2,6.9,7.9,8.6,12.3,13.3,18.6,19.5,21.3,23.6,24.6]
BLACK_R_M=[-17.6,-17.33,-17.52,-18.25,-18.71,-18.84,-19.13,-19.15,-19.27,-19.29,-19.3,-19.35,-19.38,-19.38,-19.38,-19.36,-19.32,-19.3,-19.27,-19.24,-19.2,-19.15,-19.1,-18.75,-18.7,-18.58,-18.52,-18.47,-18.4,-18.36]
BLACK_G_T=[-16.8,-9.9,-8.2,-6.2,-5.4,-4.7,-3.4,.3,1.3,3,3.7,5,6,7,8,8.6,13.8,18,19.2,20.7,21.7,23.2,24,44.2,47.1,48.4,54.3,56.3,60.2,62.2,64.2,65.2,66.2,71.1,72.6,73.6,74.6,83.7,84.9,87.2,88.9,91.1,92.8,93.8,94.8,96.8,97.8,99]
BLACK_G_M=[-17.36,-18.64,-18.77,-18.87,-18.9,-18.9,-18.93,-18.76,-18.72,-18.5,-18.5,-18.3,-18.3,-18.24,-18.05,-18.05,-17.6,-17.28,-17.18,-17.12,-17.08,-17.08,-17.08,-16.38,-16.28,-16.28,-16.18,-16.15,-16.12,-16.05,-16.08,-16.08,-16.02,-15.95,-15.95,-15.92,-15.92,-15.72,-15.75,-15.69,-15.66,-15.66,-15.59,-15.59,-15.56,-15.56,-15.56,-15.56]
BLACK_C_T=[-17.8,-16.6,-11,-10,-8.2,-7.7,-5.9,-5.4,-4.9,-3.4,0,.6,2.5,3.3,4.7,5.4,6,7,7.8,8.6,13.3,17.8,18.8,19.5,21.3,23.6,24.6]
BLACK_C_V=[.35,.15,.22,.25,.3,.32,.38,.4,.42,.48,.63,.65,.72,.75,.82,.85,.92,.98,1.02,1.05,1.24,1.32,1.33,1.33,1.32,1.32,1.32]

R_ALL=[R_bmf,R_too,R_moc,R_hyz,R_lao,R_tkx,R_gwc,R_jqm,R_qfi,R_dgd,R_rph,R_epp,R_hsx,R_ywf,R_ell,R_lci,R_oqp,R_pgo,R_zg,R_ayz,R_hes,R_hyj,R_qjv,R_rfr,R_abxl,R_fop,R_ktv,R_ncn,R_abxc,R_adow,R_gep,R_bvw,R_keq,R_bvc,R_wgz,R_hsf]
G_ALL=[G_bmf,G_too,G_moc,G_hyz,G_lao,G_tkx,G_gwc,G_jqm,G_qfi,G_dgd,G_rph,G_epp,G_hsx,G_ywf,G_ell,G_lci,G_oqp,G_pgo,G_zg,G_ayz,G_hes,G_hyj,G_qjv,G_rfr,G_abxl,G_fop,G_ktv,G_ncn,G_abxc,G_adow,G_gep,G_bvw,G_keq,G_bvc,G_wgz,G_hsf]
C_ALL=[C_bmf,C_too,C_moc,C_hyz,C_lao,C_tkx,C_gwc,C_jqm,C_qfi,C_dgd,C_rph,C_epp,C_hsx,C_ywf,C_ell,C_lci,C_oqp,C_pgo,C_zg,C_ayz,C_hes,C_hyj,C_qjv,C_rfr,C_abxl,C_fop,C_ktv,C_ncn,C_abxc,C_adow,C_gep,C_bvw,C_keq,C_bvc,C_wgz,C_hsf]

# ---------- style ----------
W,H=1294,1334
L,Rt=94,1005
PANELS=[(4,427),(427,850),(850,1273)]
FONT="DejaVu Sans"
INK="#333333"
FRAME="#5a5a5a"
STOPS=[(0,(255,0,41)),(.03,(255,0,0)),(.215,(255,255,0)),(.4,(0,255,0)),(.586,(0,255,255)),(.77,(0,0,255)),(.954,(255,0,255)),(1,(255,0,191))]
def cmap(t):
    for (a,ca),(b,cb) in zip(STOPS,STOPS[1:]):
        if t<=b:
            f=(t-a)/(b-a)
            return tuple(round(p+(q-p)*f) for p,q in zip(ca,cb))
    return STOPS[-1][1]
COLORS=[cmap(i/35) for i in range(36)]
def rgb(c,a=1): return f"rgba({c[0]},{c[1]},{c[2]},{a})"
def py(v): return 1-v/H
def px(v): return v/W

fig=go.Figure()
def add_mag(points,c,name,axis):
    t=[p[0] for p in points]; m=[p[1] for p in points]
    err=[.06 if d<20 else .19 for d in t]
    fig.add_trace(go.Scatter(x=t,y=m,mode="lines",name=name,showlegend=False,xaxis=axis[0],yaxis=axis[1],
        line=dict(color=rgb(c),width=2.2,dash="2.5px,4.3px",shape="spline",smoothing=.5),
        error_y=dict(type="data",array=err,color=rgb(c,.28),thickness=2,width=0)))
def add_col(points,c,name):
    t=[p[0] for p in points]; v=[p[1] for p in points]
    base=.1 if name=="SN2018hsf" else .15
    err=[base if d<25 else .24 for d in t]
    fig.add_trace(go.Scatter(x=t,y=v,mode="lines",name=name,showlegend=False,xaxis="x3",yaxis="y3",
        line=dict(color=rgb(c),width=2.2,dash="9px,5px"),
        error_y=dict(type="data",array=err,color=rgb(c),thickness=2.4,width=0)))

for i,n in enumerate(NAMES): add_mag(R_ALL[i],COLORS[i],n,("x","y"))
for i,n in enumerate(NAMES): add_mag(G_ALL[i],COLORS[i],n,("x2","y2"))
for i,n in enumerate(NAMES): add_col(C_ALL[i],COLORS[i],n)

BLK="#111111"
for ax,T,V,bt,bv,e,lim in [(("x","y"),BW_R_T,BW_R_M,BLACK_R_T,BLACK_R_M,.17,9),(("x2","y2"),BW_G_T,BW_G_M,BLACK_G_T,BLACK_G_M,.17,14),(("x3","y3"),BW_C_T,BW_C_V,BLACK_C_T,BLACK_C_V,.24,14)]:
    fig.add_trace(go.Scatter(x=T,y=V,mode="lines",showlegend=False,xaxis=ax[0],yaxis=ax[1],name="SN1998bw",
        line=dict(color=BLK,width=2.4,dash="10px,5px",shape="spline",smoothing=.4)))
    fig.add_trace(go.Scatter(x=bt,y=bv,mode="markers",showlegend=False,xaxis=ax[0],yaxis=ax[1],name="SN1998bw data",
        marker=dict(color=BLK,size=2),
        error_y=dict(type="data",array=[e]*len(bt),color=BLK,thickness=2.4,width=0)))
    keep=[k for k,d in enumerate(bt) if -11<d<=lim]
    fig.add_trace(go.Scatter(x=[bt[k] for k in keep],y=[bv[k] for k in keep],mode="lines",showlegend=False,xaxis=ax[0],yaxis=ax[1],name="SN1998bw peak",
        line=dict(color=BLK,width=1.6)))

YTICK_MAG=[-21,-20,-19,-18,-17,-16,-15,-14]
YTICK_COL=[-1.5,-1,-.5,0,.5,1,1.5,2]
XTICK=[-20,0,20,40,60,80,100]
XR=[-34.96,100]
axcommon=dict(showgrid=False,zeroline=False,showline=True,linecolor=FRAME,linewidth=1.6,
    ticks="outside",ticklen=4,tickcolor=FRAME,tickwidth=1.2,tickfont=dict(family=FONT,size=16,color=INK),automargin=False)
dom=lambda p:[py(p[1]),py(p[0])]
xdom=[px(L),px(Rt)]
TITLE=dict(family=FONT,size=23.5,color=INK)
fig.update_layout(width=W,height=H,margin=dict(l=0,r=0,t=0,b=0),paper_bgcolor="white",plot_bgcolor="white",showlegend=False,
    font=dict(family=FONT,color=INK),
    xaxis=dict(axcommon,domain=xdom,range=XR,anchor="y",side="top",mirror=False,showticklabels=False,ticks=""),
    xaxis2=dict(axcommon,domain=xdom,range=XR,anchor="y2",side="top",mirror=False,showticklabels=False,ticks=""),
    xaxis3=dict(axcommon,domain=xdom,range=XR,anchor="y3",tickvals=XTICK,mirror=True,
        title=dict(text="<i>t − T</i><sub><i>r</i>, max</sub> (restframe d)",font=dict(family=FONT,size=24,color=INK),standoff=9)),
    yaxis=dict(axcommon,domain=dom(PANELS[0]),range=[-13.22,-21.51],anchor="x",tickvals=YTICK_MAG,mirror=True,
        title=dict(text="M<sub>r</sub> (mag)",font=TITLE,standoff=11)),
    yaxis2=dict(axcommon,domain=dom(PANELS[1]),range=[-13.2,-21.51],anchor="x2",tickvals=YTICK_MAG,mirror=True,
        title=dict(text="M<sub>g</sub> (mag)",font=TITLE,standoff=11)),
    yaxis3=dict(axcommon,domain=dom(PANELS[2]),range=[-1.5,2.2],anchor="x3",tickvals=YTICK_COL,tickformat=".1f",mirror=True,
        title=dict(text="M<sub>g</sub>-M<sub>r</sub> (mag)",font=TITLE,standoff=11)),
)
fig.add_shape(type="line",xref="x",yref="paper",x0=0,x1=0,y0=py(1273),y1=py(4),line=dict(color=BLK,width=2.5,dash="9px,5px"))

for (xr,yr,txt,xv,yv,rot) in [("x","y","SN1998bw R",69.2,-17.34,7.5),("x2","y2","SN1998bw B",69.2,-16.3,7.5),("x3","y3","SN1998bw B-R",70.5,1.34,7.5)]:
    fig.add_annotation(x=xv,y=yv,xref=xr,yref=yr,text=txt,showarrow=False,textangle=rot,font=dict(family=FONT,size=19.5,color=INK))

x0,x1,y0,y1,r=1043,1283,25,1301,5
path=(f"M {px(x0+r)} {py(y0)} L {px(x1-r)} {py(y0)} Q {px(x1)} {py(y0)} {px(x1)} {py(y0+r)} L {px(x1)} {py(y1-r)} "
      f"Q {px(x1)} {py(y1)} {px(x1-r)} {py(y1)} L {px(x0+r)} {py(y1)} Q {px(x0)} {py(y1)} {px(x0)} {py(y1-r)} "
      f"L {px(x0)} {py(y0+r)} Q {px(x0)} {py(y0)} {px(x0+r)} {py(y0)} Z")
fig.add_shape(type="path",path=path,xref="paper",yref="paper",line=dict(color="#dddddd",width=1.5),fillcolor="white")
step=(1279-44)/35
for i,n in enumerate(NAMES):
    yc=44+i*step
    fig.add_shape(type="line",xref="paper",yref="paper",x0=px(1076),x1=px(1076),y0=py(yc-12),y1=py(yc+12),line=dict(color=rgb(COLORS[i]),width=2.4))
    fig.add_annotation(x=px(1118),y=py(yc),xref="paper",yref="paper",text=n,showarrow=False,xanchor="left",yanchor="middle",xshift=-2,
        font=dict(family=FONT,size=23.6,color=INK))

fig.write_html("out.html",config={"displayModeBar":False},post_script="document.body.style.margin='0';")
